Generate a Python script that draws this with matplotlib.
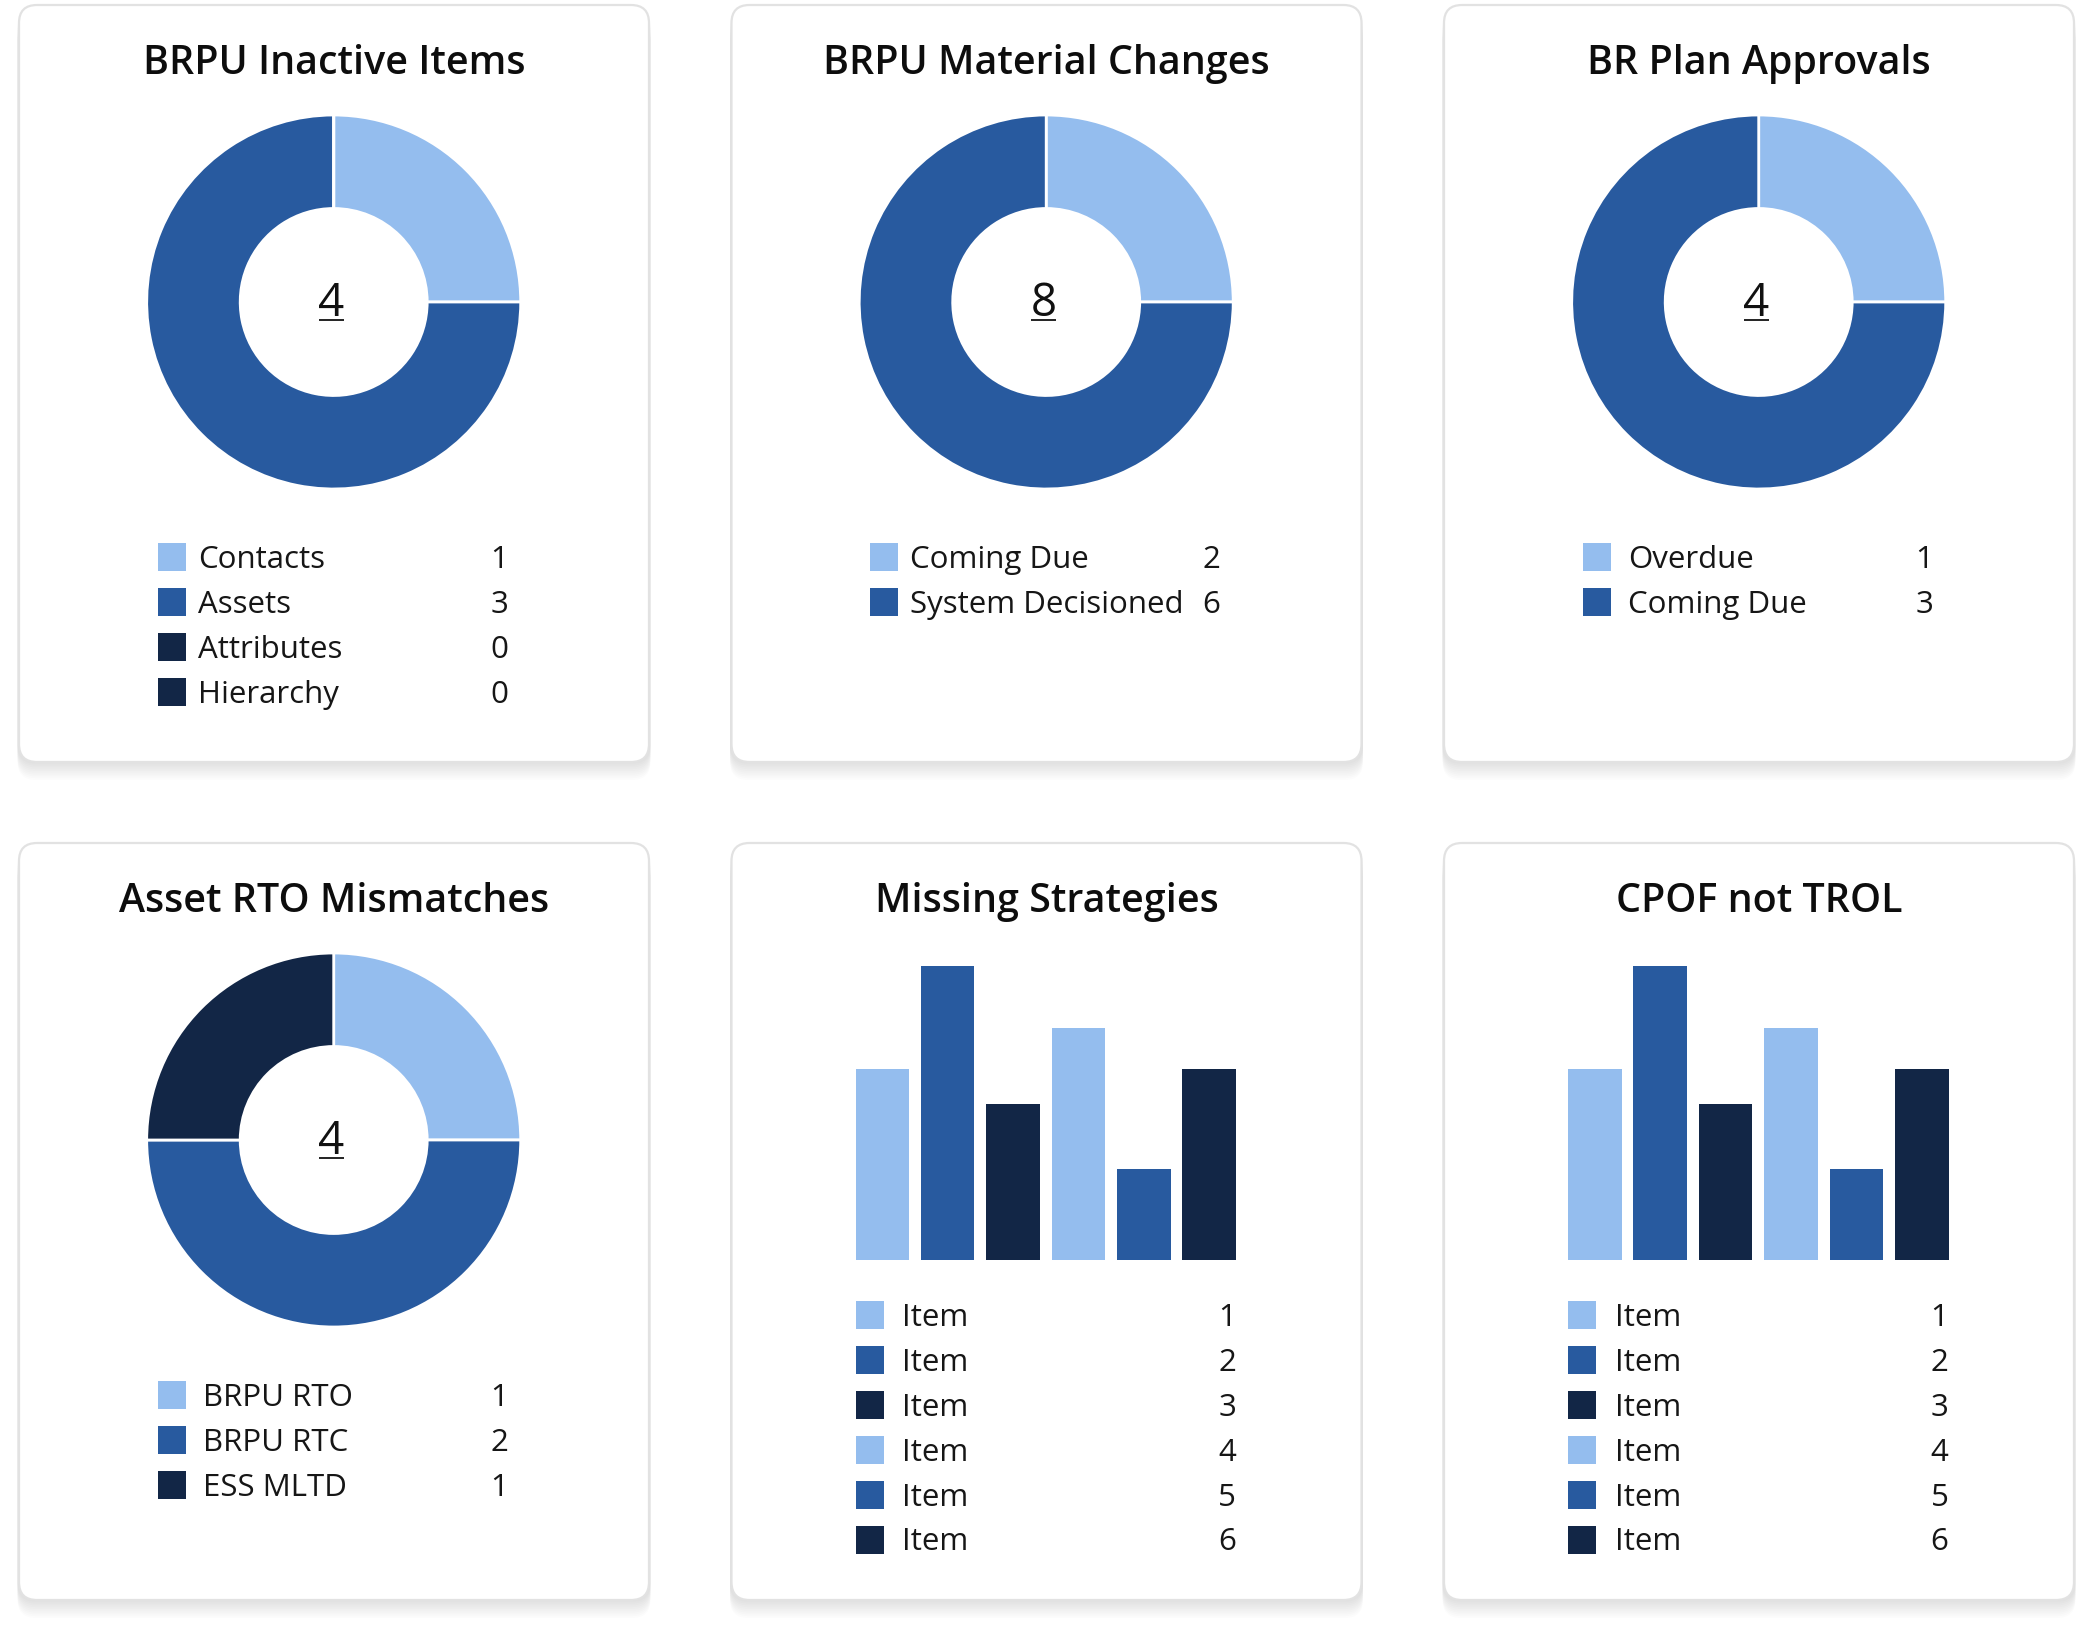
import numpy as np
import matplotlib
matplotlib.use("Agg")
import matplotlib.pyplot as plt
from matplotlib.patches import FancyBboxPatch, Rectangle

plt.rcParams['font.family'] = ['Open Sans', 'DejaVu Sans']

# colours used by the dashboard
LIGHT = "#94BDEE"
MID = "#285A9F"
DARK = "#122646"

# ---- data ----
inactive_labels = ["Contacts", "Assets", "Attributes", "Hierarchy"]
inactive_values = [1, 3, 0, 0]
inactive_colors = [LIGHT, MID, DARK, DARK]

material_labels = ["Coming Due", "System Decisioned"]
material_values = [2, 6]
material_colors = [LIGHT, MID]

approval_labels = ["Overdue", "Coming Due"]
approval_values = [1, 3]
approval_colors = [LIGHT, MID]

rto_labels = ["BRPU RTO", "BRPU RTC", "ESS MLTD"]
rto_values = [1, 2, 1]
rto_colors = [LIGHT, MID, DARK]

item_labels = ["Item"] * 6
item_numbers = [1, 2, 3, 4, 5, 6]
item_colors = [LIGHT, MID, DARK, LIGHT, MID, DARK]
strategies_heights = [6.5, 10, 5.3, 7.9, 3.1, 6.5]
cpof_heights = [6.5, 10, 5.3, 7.9, 3.1, 6.5]

W, H = 2093, 1636
fig = plt.figure(figsize=(W / 100, H / 100), dpi=100)
fig.patch.set_facecolor("white")

bg = fig.add_axes([0, 0, 1, 1])
bg.set_xlim(0, W)
bg.set_ylim(H, 0)
bg.axis("off")

PANEL_W, PANEL_H = 630, 757
col_x = [19, 731.5, 1444]
row_y = [5, 843]


def frac(x0, y0, w, h):
    # pixel box (top-left origin) -> figure fraction rect
    return [x0 / W, 1 - (y0 + h) / H, w / W, h / H]


def draw_panel(x0, y0, title):
    # soft shadow underneath
    for i in range(1, 11):
        bg.add_patch(FancyBboxPatch((x0 - 1.5, y0 + i * 1.8), PANEL_W + 3, PANEL_H,
                                    boxstyle="round,pad=0,rounding_size=18",
                                    facecolor="black", edgecolor="none",
                                    alpha=0.013, zorder=1))
    bg.add_patch(FancyBboxPatch((x0, y0), PANEL_W, PANEL_H,
                                boxstyle="round,pad=0,rounding_size=18",
                                facecolor="white", edgecolor="#e2e2e2",
                                linewidth=1.6, zorder=2))
    bg.text(x0 + PANEL_W / 2, y0 + 68.5, title, ha="center", va="baseline",
            fontsize=28.4, fontweight="semibold", color="#0d0d0d", zorder=3)


def draw_legend(x0, y0, labels, numbers, colors, sq_x, lab_x, num_x, first_row):
    for i, (lab, num, col) in enumerate(zip(labels, numbers, colors)):
        cy = y0 + first_row + i * 44.9
        bg.add_patch(Rectangle((x0 + sq_x, cy - 14), 28, 28, facecolor=col,
                               edgecolor="none", zorder=3))
        bg.text(x0 + lab_x, cy + 11, lab, ha="left", va="baseline",
                fontsize=22.5, color="#161616", zorder=3)
        bg.text(x0 + num_x, cy + 11, str(num), ha="right", va="baseline",
                fontsize=22.5, color="#161616", zorder=3)


def draw_donut(x0, y0, title, labels, values, colors, lab_x=179):
    draw_panel(x0, y0, title)
    cx, cy, r = x0 + 314.7, y0 + 297, 187
    ax = fig.add_axes(frac(cx - r, cy - r, 2 * r, 2 * r))
    ax.pie(values, colors=colors, startangle=90, counterclock=False, radius=1,
           wedgeprops=dict(width=0.5, edgecolor="white", linewidth=2))
    ax.set_xlim(-1.0, 1.0)
    ax.set_ylim(-1.0, 1.0)
    ax.set_aspect("equal")
    ax.axis("off")
    total = sum(values)
    ax.text(-0.012, -0.075, str(total), ha="center", va="baseline",
            fontsize=33, color="#111111")
    ax.plot([-0.08, 0.055], [-0.098, -0.098], color="#111111", lw=1.3,
            solid_capstyle="butt")
    draw_legend(x0, y0, labels, values, colors, 138.5, lab_x, 489, 552)


def draw_bars(x0, y0, title, heights):
    draw_panel(x0, y0, title)
    left, right, base, top = x0 + 124, x0 + 504.5, y0 + 417, y0 + 123.4
    ax = fig.add_axes(frac(left, top, right - left, base - top))
    ax.bar(range(len(heights)), heights, width=0.82, color=item_colors)
    ax.set_xlim(-0.41, len(heights) - 1 + 0.41)
    ax.set_ylim(0, max(heights))
    ax.axis("off")
    draw_legend(x0, y0, item_labels, item_numbers, item_colors, 124, 170.7, 504.5, 472)


draw_donut(col_x[0], row_y[0], "BRPU Inactive Items", inactive_labels, inactive_values, inactive_colors)
draw_donut(col_x[1], row_y[0], "BRPU Material Changes", material_labels, material_values, material_colors)
draw_donut(col_x[2], row_y[0], "BR Plan Approvals", approval_labels, approval_values, approval_colors, lab_x=184)
draw_donut(col_x[0], row_y[1], "Asset RTO Mismatches", rto_labels, rto_values, rto_colors, lab_x=184)
draw_bars(col_x[1], row_y[1], "Missing Strategies", strategies_heights)
draw_bars(col_x[2], row_y[1], "CPOF not TROL", cpof_heights)

fig.savefig("out.png", dpi=100, facecolor="white")
